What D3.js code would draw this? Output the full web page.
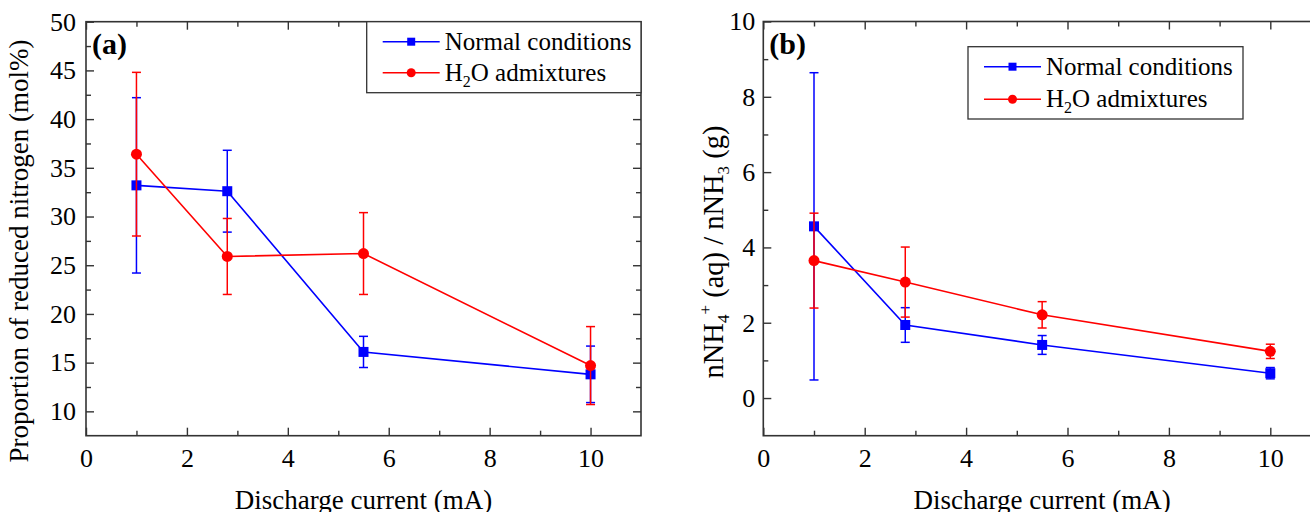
<!DOCTYPE html>
<html>
<head>
<meta charset="utf-8">
<script src="https://cdn.jsdelivr.net/npm/d3@7"></script>
<style>
  body { margin: 0; background: #fff; }
  svg { display: block; }
  text { font-family: "Times New Roman", "Liberation Serif", serif; fill: #000; }
  .tick text { font-size: 26px; font-family: "Times New Roman", "Liberation Serif", serif; }
  .title { font-size: 27px; }
  .legend text { font-size: 25px; }
  .panel { font-size: 30px; font-weight: bold; }
</style>
</head>
<body>
<svg id="chart" width="1310" height="512"></svg>
<script>
// discharge current (mA)
var current = [1, 2.8, 5.5, 10]

// panel (a): proportion of reduced nitrogen (mol%)
var normalA = [33.2, 32.6, 16.1, 13.8]
var normalAerr = [9.0, 4.2, 1.6, 2.9]
var waterA = [36.4, 25.9, 26.2, 14.7]
var waterAerr = [8.4, 3.9, 4.2, 4.0]

// panel (b): nNH4+(aq) / nNH3(g)
var normalB = [4.56, 1.94, 1.41, 0.66]
var normalBerr = [4.08, 0.46, 0.25, 0.15]
var waterB = [3.65, 3.08, 2.21, 1.24]
var waterBerr = [1.26, 0.93, 0.35, 0.19]

var xTicks = [0, 2, 4, 6, 8, 10]
var xMinor = [1, 3, 5, 7, 9]
var yTicksA = [10, 15, 20, 25, 30, 35, 40, 45, 50]
var yMinorA = [12.5, 17.5, 22.5, 27.5, 32.5, 37.5, 42.5, 47.5]
var yTicksB = [0, 2, 4, 6, 8, 10]
var yMinorB = [1, 3, 5, 7, 9]

var blue = "#0000ff"
var red = "#ff0000"

var svg = d3.select("#chart")

var makeSeries = function(ys, errs) {
  return current.map(function(x, i) { return {x: x, y: ys[i], e: errs[i]} })
}

var drawPanel = function(opt)
{
  var xScale = d3.scaleLinear().domain([0, 11]).range([opt.left, opt.right])
  var yScale = d3.scaleLinear().domain(opt.yDomain).range([opt.bottom, opt.top])
  var g = svg.append("g")

  // frame
  g.append("rect")
    .attr("x", opt.left).attr("y", opt.top)
    .attr("width", opt.right - opt.left).attr("height", opt.bottom - opt.top)
    .attr("fill", "none").attr("stroke", "#333").attr("stroke-width", 1.6)

  var addAxis = function(axis, tx, ty, labels) {
    var a = g.append("g")
      .attr("transform", "translate(" + tx + "," + ty + ")")
      .call(axis)
      .attr("font-family", null).attr("font-size", null)
    a.select(".domain").remove()
    a.selectAll(".tick line").attr("stroke", "#333").attr("stroke-width", 1.4)
    if (!labels) a.selectAll("text").remove()
    return a
  }

  // major + minor ticks on all four sides, pointing inward
  addAxis(d3.axisBottom(xScale).tickValues(xTicks).tickSize(-8).tickPadding(13).tickFormat(d3.format("d")), 0, opt.bottom, true)
  addAxis(d3.axisBottom(xScale).tickValues(xMinor).tickSize(-5).tickFormat(""), 0, opt.bottom, false)
  addAxis(d3.axisTop(xScale).tickValues(xTicks).tickSize(-8).tickFormat(""), 0, opt.top, false)
  addAxis(d3.axisTop(xScale).tickValues(xMinor).tickSize(-5).tickFormat(""), 0, opt.top, false)
  addAxis(d3.axisLeft(yScale).tickValues(opt.yTicks).tickSize(-8).tickPadding(opt.yPad).tickFormat(d3.format("d")), opt.left, 0, true)
  addAxis(d3.axisLeft(yScale).tickValues(opt.yMinor).tickSize(-5).tickFormat(""), opt.left, 0, false)
  addAxis(d3.axisRight(yScale).tickValues(opt.yTicks).tickSize(-8).tickFormat(""), opt.right, 0, false)
  addAxis(d3.axisRight(yScale).tickValues(opt.yMinor).tickSize(-5).tickFormat(""), opt.right, 0, false)

  var line = d3.line().x(function(d) { return xScale(d.x) }).y(function(d) { return yScale(d.y) })

  opt.series.forEach(function(s) {
    var sg = g.append("g")
    sg.append("path").datum(s.data)
      .attr("d", line).attr("fill", "none").attr("stroke", s.color).attr("stroke-width", 1.6)
    var eb = sg.selectAll(".err").data(s.data).enter().append("g")
    eb.append("line")
      .attr("x1", function(d) { return xScale(d.x) }).attr("x2", function(d) { return xScale(d.x) })
      .attr("y1", function(d) { return yScale(d.y - d.e) }).attr("y2", function(d) { return yScale(d.y + d.e) })
      .attr("stroke", s.color).attr("stroke-width", 1.5)
    ;[-1, 1].forEach(function(k) {
      eb.append("line")
        .attr("x1", function(d) { return xScale(d.x) - 4.5 }).attr("x2", function(d) { return xScale(d.x) + 4.5 })
        .attr("y1", function(d) { return yScale(d.y + k * d.e) }).attr("y2", function(d) { return yScale(d.y + k * d.e) })
        .attr("stroke", s.color).attr("stroke-width", 1.5)
    })
    if (s.shape == "square") {
      sg.selectAll(".pt").data(s.data).enter().append("rect")
        .attr("x", function(d) { return xScale(d.x) - 5 }).attr("y", function(d) { return yScale(d.y) - 5 })
        .attr("width", 10).attr("height", 10).attr("fill", s.color)
    } else {
      sg.selectAll(".pt").data(s.data).enter().append("circle")
        .attr("cx", function(d) { return xScale(d.x) }).attr("cy", function(d) { return yScale(d.y) })
        .attr("r", 5.5).attr("fill", s.color)
    }
  })

  // panel letter
  g.append("text").attr("class", "panel").attr("x", opt.left + 6).attr("y", opt.top + 32).text(opt.letter)

  // x title
  g.append("text").attr("class", "title").attr("text-anchor", "middle")
    .attr("x", (opt.left + opt.right) / 2).attr("y", 509).text("Discharge current (mA)")

  // y title
  var yt = g.append("text").attr("class", "title").attr("text-anchor", "middle")
    .attr("transform", "translate(" + opt.yTitleX + "," + opt.yTitleY + ") rotate(-90)")
  opt.yTitle(yt)

  // legend
  var lg = g.append("g").attr("class", "legend")
  lg.append("rect")
    .attr("x", opt.legend.x).attr("y", opt.legend.y).attr("width", opt.legend.w).attr("height", opt.legend.h)
    .attr("fill", "#fff").attr("stroke", "#333").attr("stroke-width", 1.3)
  opt.series.forEach(function(s, i) {
    var cy = opt.legend.y + opt.legend.row0 + i * opt.legend.gap
    var lx = opt.legend.x + 16
    lg.append("line").attr("x1", lx).attr("x2", lx + 57).attr("y1", cy).attr("y2", cy)
      .attr("stroke", s.color).attr("stroke-width", 1.6)
    if (s.shape == "square") {
      lg.append("rect").attr("x", lx + 28.5 - 4).attr("y", cy - 4).attr("width", 8).attr("height", 8).attr("fill", s.color)
    } else {
      lg.append("circle").attr("cx", lx + 28.5).attr("cy", cy).attr("r", 4.5).attr("fill", s.color)
    }
    var t = lg.append("text").attr("x", lx + 62).attr("y", cy + 8)
    if (i == 0) t.text("Normal conditions")
    else {
      t.append("tspan").text("H")
      t.append("tspan").attr("dy", 6).style("font-size", "16px").text("2")
      t.append("tspan").attr("dy", -6).text("O admixtures")
    }
  })
}

drawPanel({
  left: 86, right: 641, top: 21.7, bottom: 435.7,
  yDomain: [7.5, 50], yTicks: yTicksA, yMinor: yMinorA, yPad: 10,
  letter: "(a)",
  yTitleX: 28, yTitleY: 251,
  yTitle: function(t) { t.text("Proportion of reduced nitrogen (mol%)") },
  legend: {x: 366.7, y: 21.7, w: 274.3, h: 71, row0: 20, gap: 31},
  series: [
    {color: blue, shape: "square", data: makeSeries(normalA, normalAerr)},
    {color: red, shape: "circle", data: makeSeries(waterA, waterAerr)}
  ]
})

drawPanel({
  left: 763.3, right: 1321, top: 21.5, bottom: 435.7,
  yDomain: [-1, 10], yTicks: yTicksB, yMinor: yMinorB, yPad: 8,
  letter: "(b)",
  yTitleX: 723, yTitleY: 252,
  yTitle: function(t) {
    t.style("font-size", "28.5px")
    t.append("tspan").text("nNH")
    t.append("tspan").attr("dy", 6).style("font-size", "17px").text("4")
    t.append("tspan").attr("dy", -18).style("font-size", "17px").text("+")
    t.append("tspan").attr("dy", 12).text(" (aq) / nNH")
    t.append("tspan").attr("dy", 6).style("font-size", "17px").text("3")
    t.append("tspan").attr("dy", -6).text(" (g)")
  },
  legend: {x: 968, y: 46.7, w: 275, h: 72.3, row0: 20, gap: 32.6},
  series: [
    {color: blue, shape: "square", data: makeSeries(normalB, normalBerr)},
    {color: red, shape: "circle", data: makeSeries(waterB, waterBerr)}
  ]
})
</script>
</body>
</html>
